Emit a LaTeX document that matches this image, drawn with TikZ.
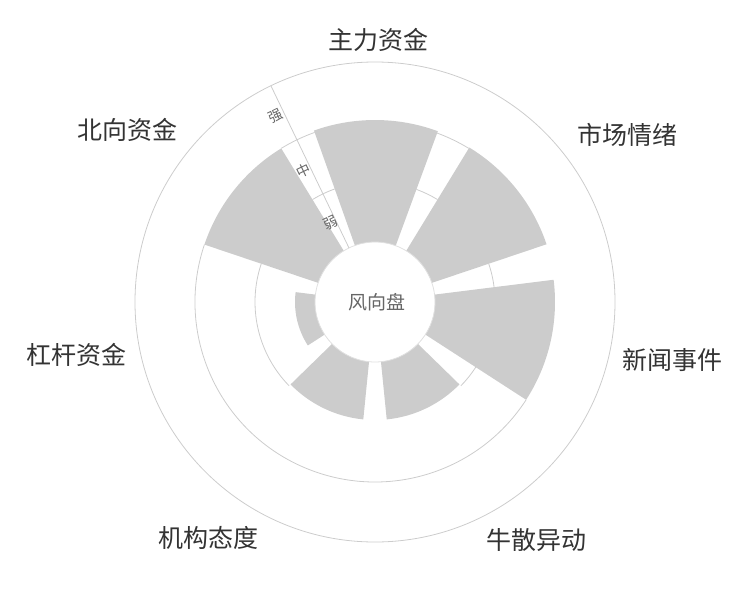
\documentclass[tikz,border=0pt]{standalone}
\usepackage{fontspec}
\setmainfont{Noto Sans CJK SC}
\begin{document}
\begin{tikzpicture}[x=1pt,y=1pt,
  bar/.style={fill=black!20},
  grid/.style={draw=black!20,line width=0.8pt},
  lab/.style={text=black!80,font=\fontsize{25}{25}\selectfont,inner sep=0},
  lvl/.style={text=black!60,font=\fontsize{14}{14}\selectfont,inner sep=0,rotate=25.7}]
\useasboundingbox (0,0) rectangle (750,-600);
\begin{scope}[shift={(375,-302)}]
\newcommand{\mysec}[3]{\fill[bar] (#1:60) arc[start angle=#1,end angle=#2,radius=60] -- (#2:#3) arc[start angle=#2,end angle=#1,radius=#3] -- cycle;}
\mysec{69.8}{109.6}{182}
\mysec{18.6}{58.6}{181}
\mysec{-32.9}{7.1}{180}
\mysec{-84.3}{-44.3}{118}
\mysec{-135.7}{-95.7}{118}
\mysec{172.9}{212.9}{80}
\mysec{121.4}{161.4}{180}
\draw[grid] (0,0) circle[radius=240];
\draw[grid,draw=black!12] (0,0) circle[radius=60];
\draw[grid] (161.4:180) arc[start angle=161.4,end angle=327.1,radius=180];
\draw[grid] (58.6:180) arc[start angle=58.6,end angle=69.8,radius=180];
\draw[grid] (109.6:180) arc[start angle=109.6,end angle=121.4,radius=180];
\draw[grid] (161.4:120) arc[start angle=161.4,end angle=224.3,radius=120];
\draw[grid] (58.6:120) arc[start angle=58.6,end angle=69.8,radius=120];
\draw[grid] (109.6:120) arc[start angle=109.6,end angle=121.4,radius=120];
\draw[grid] (7.1:120) arc[start angle=7.1,end angle=18.6,radius=120];
\draw[grid] (-44.3:120) arc[start angle=-44.3,end angle=-32.9,radius=120];
\draw[grid] (115.7:60) -- (115.7:240);
\node[lvl] (ruo) at (119.5:91) {弱};
\node[lvl] (zhong) at (118.5:150) {中};
\node[lvl] (qiang) at (118:211) {强};
\node[text=black!60,font=\fontsize{19}{19}\selectfont,inner sep=0] (c) at (2,0) {风向盘};
\end{scope}
\node[lab] (l1) at (378,-40) {主力资金};
\node[lab] (l2) at (627,-135) {市场情绪};
\node[lab] (l3) at (672,-360) {新闻事件};
\node[lab] (l4) at (536,-540) {牛散异动};
\node[lab] (l5) at (208,-538) {机构态度};
\node[lab] (l6) at (77,-355) {杠杆资金};
\node[lab] (l7) at (127,-130) {北向资金};
\end{tikzpicture}
\end{document}
